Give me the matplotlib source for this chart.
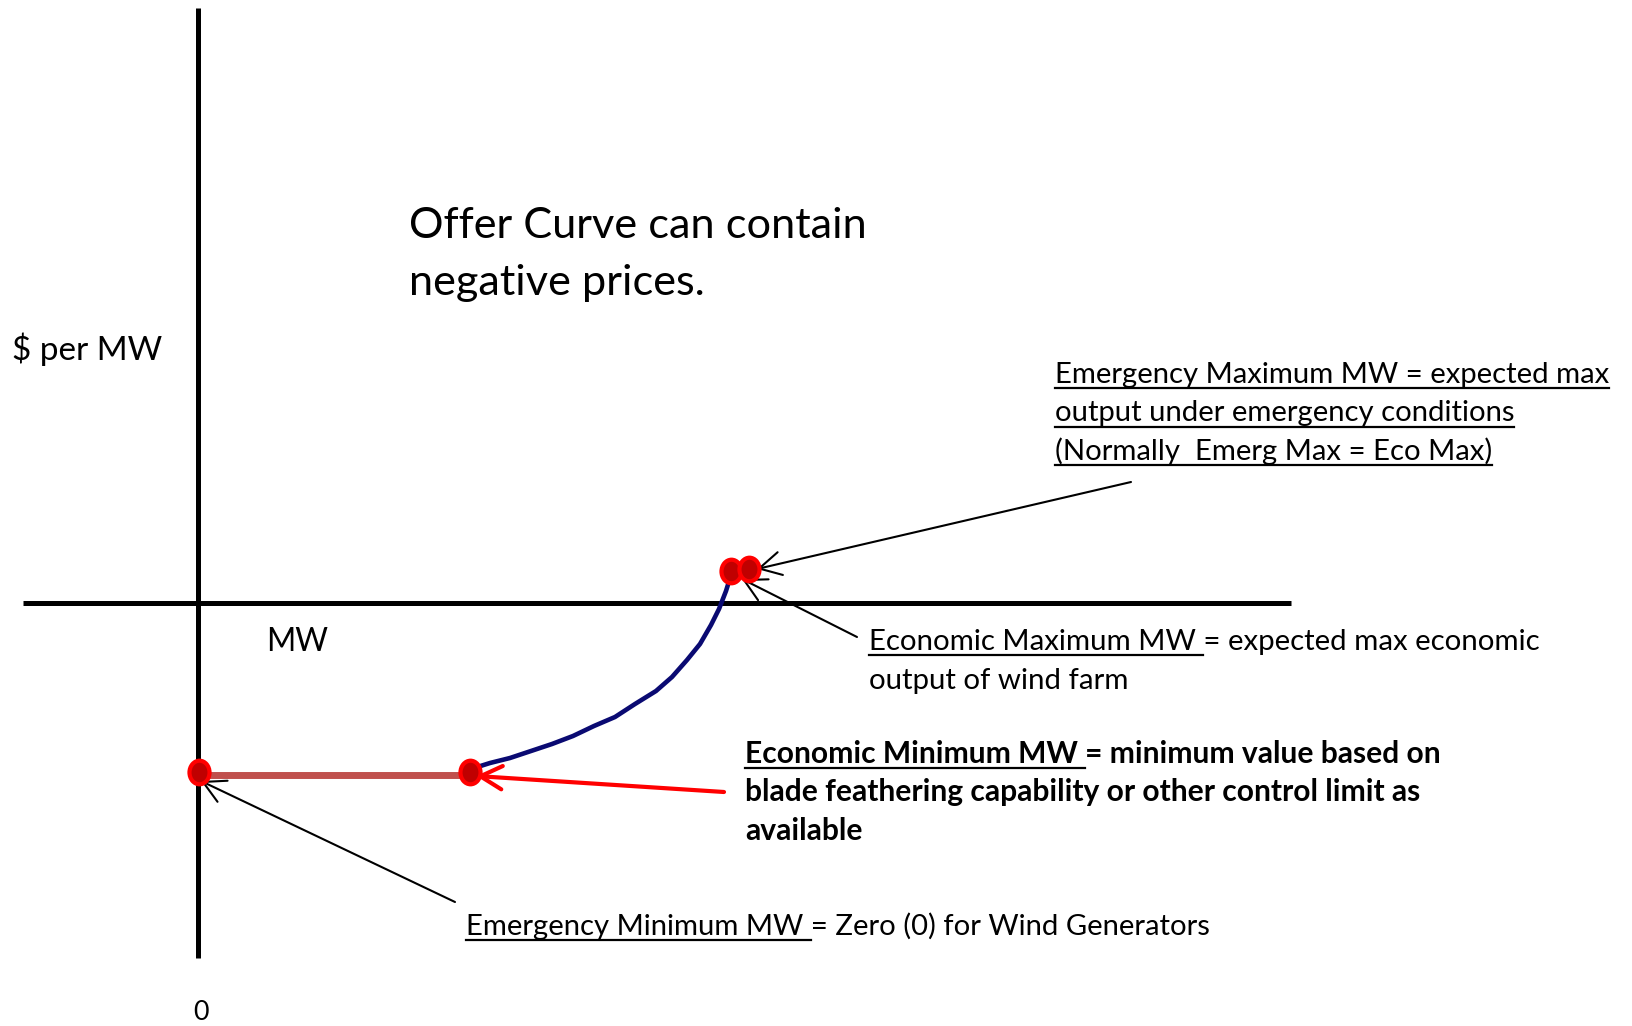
import matplotlib
matplotlib.use("Agg")
import matplotlib.pyplot as plt
from matplotlib.path import Path

plt.rcParams['font.family'] = ['Lato', 'DejaVu Sans']

W, H = 1633, 1026

# axis lines of the sketch (pixel coords, y down)
price_axis_x = 198
price_axis_y = [8, 958]
mw_axis_y = 603
mw_axis_x = [23, 1291]

# offer curve, hand drawn from economic min up to economic max
curve_x = [471, 490, 510, 531, 552, 573, 594, 615, 635, 656, 672, 687, 700, 711, 719, 726, 731]
curve_y = [769, 763, 758, 751, 744, 736, 726, 717, 704, 691, 677, 660, 644, 625, 609, 591, 575]

# flat segment from emergency min to economic min
flat_x = [198, 470]
flat_y = [775, 775]

# limit points: emerg min, eco min, eco max, emerg max
pt_x = [199, 470, 731, 749]
pt_y = [772, 772, 571, 569]

# arrows (tail -> tip)
arrows = [
    ((1131, 482), (757, 569), 'black', 1.5),
    ((857, 637), (742, 579), 'black', 1.5),
    ((724, 792), (476, 776), '#ff0000', 3.0),
    ((455, 902), (201, 781), 'black', 1.5),
]

fig = plt.figure(figsize=(W / 100, H / 100), dpi=100)
ax = fig.add_axes([0, 0, 1, 1])
ax.set_xlim(0, W)
ax.set_ylim(H, 0)
ax.axis('off')

ax.plot([price_axis_x, price_axis_x], price_axis_y, color='black', lw=3.6, solid_capstyle='butt')
ax.plot(mw_axis_x, [mw_axis_y, mw_axis_y], color='black', lw=3.6, solid_capstyle='butt')

ax.plot(flat_x, flat_y, color='#c0504d', lw=5, solid_capstyle='butt', zorder=3)
ax.plot(curve_x, curve_y, color='#0a0a72', lw=3.3, zorder=3)

for (tail, tip, col, lw) in arrows:
    ax.annotate('', xy=tip, xytext=tail,
                arrowprops=dict(arrowstyle='->, head_length=0.65, head_width=0.35',
                                color=col, lw=lw, mutation_scale=24,
                                shrinkA=0, shrinkB=0), zorder=5)

# slightly tall ellipse marker, like the hand-drawn dots
circ = Path.unit_circle()
oval = Path(circ.vertices * [0.85, 1.0], circ.codes)
ax.plot(pt_x, pt_y, marker=oval, ls='none', ms=17, mfc='#c00000', mec='#ff0000', mew=3, zorder=6)

renderer = fig.canvas.get_renderer()


def width_of(s, size, weight='normal'):
    t = ax.text(0, 0, s, fontsize=size, fontweight=weight)
    w = t.get_window_extent(renderer).width
    t.remove()
    return w


def fit(s, target, weight='normal'):
    return 20 * target / width_of(s, 20, weight)


def block(x, y0, lines, dy, size, weight='normal', underline=None):
    for i, line in enumerate(lines):
        y = y0 + i * dy
        ax.text(x, y, line, fontsize=size, fontweight=weight, va='baseline', ha='left')
        if underline is not None:
            if underline == 'all':
                w = width_of(line, size, weight)
            elif i == 0:
                w = width_of(underline + 'x', size, weight) - width_of('x', size, weight)
            else:
                continue
            ax.plot([x, x + w], [y + 5, y + 5], color='black', lw=1.6)


title = ["Offer Curve can contain", "negative prices."]
block(409, 238, title, 57, fit(title[0], 459))

ax.text(12, 360, "$ per MW", fontsize=fit("$ per MW", 151), va='baseline')
ax.text(266, 651, "MW", fontsize=fit("MW", 62), va='baseline')
ax.text(201, 1012, "0", fontsize=fit("MW", 62) * 0.85, va='center', ha='center')

emax = ["Emergency Maximum MW = expected max",
        "output under emergency conditions",
        "(Normally  Emerg Max = Eco Max)"]
block(1055, 383, emax, 38.5, fit(emax[0], 556), underline='all')

ecomax = ["Economic Maximum MW = expected max economic",
          "output of wind farm"]
block(869, 650, ecomax, 38.5, fit(ecomax[0], 672), underline='Economic Maximum MW ')

ecomin = ["Economic Minimum MW = minimum value based on",
          "blade feathering capability or other control limit as",
          "available"]
block(745, 763, ecomin, 38.5, fit(ecomin[0], 695, 'bold'), weight='bold',
      underline='Economic Minimum MW ')

emin = ["Emergency Minimum MW = Zero (0) for Wind Generators"]
block(466, 935, emin, 38.5, fit(emin[0], 744), underline='Emergency Minimum MW ')

fig.savefig('out.png', dpi=100)
